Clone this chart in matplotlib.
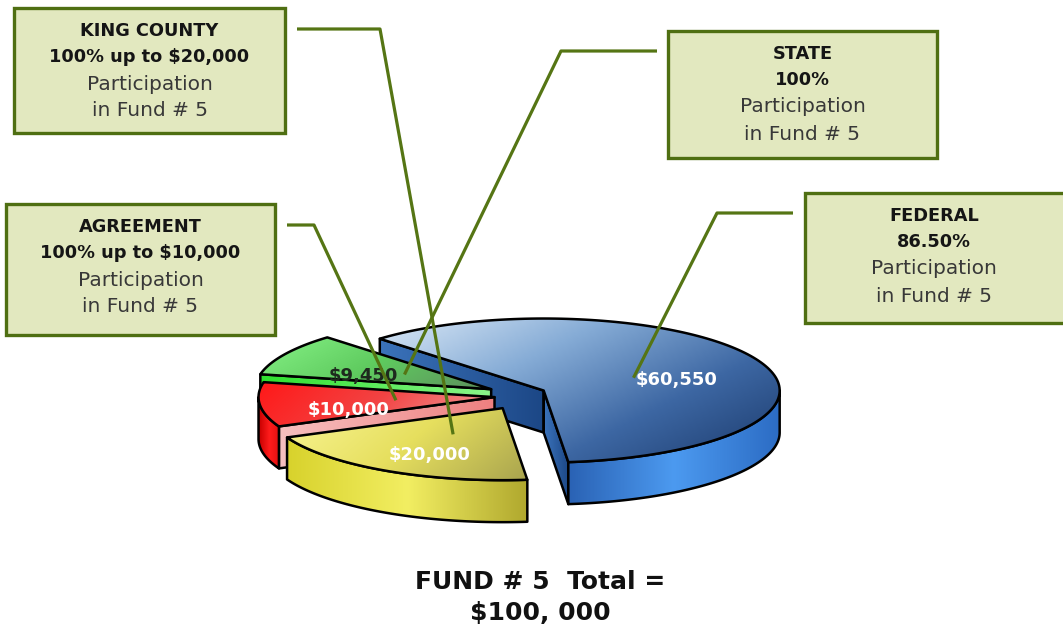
import numpy as np
import matplotlib.pyplot as plt
from matplotlib.patches import Polygon, Rectangle
from matplotlib.colors import LinearSegmentedColormap

# -----------------------
# Data
# -----------------------
sources = ["FEDERAL", "STATE", "AGREEMENT", "KING COUNTY"]
amounts = [60550, 9450, 10000, 20000]
amount_labels = ["$60,550", "$9,450", "$10,000", "$20,000"]
shares = ["86.50%", "100%", "100% up to $10,000", "100% up to $20,000"]
sub_lines = ["Participation", "in Fund # 5"]
title_lines = ["FUND # 5  Total =", "$100, 000"]

# -----------------------
# Styles / layout (pixel coords, y down)
# -----------------------
W, H = 1063, 635
cx, cy, rx, ry, depth = 518, 396, 236, 72, 42
start_angle = -84
explode = [0.12, 0.13, 0.10, 0.13]
lift = 1.5   # extra vertical spread of the exploded slices

top_cols = [["#dbe9f7", "#86acd6", "#3d67a3", "#1b3a6c"],
            ["#86f286", "#5fcb5f", "#5d8f5d"],
            ["#ff1818", "#f24444", "#f3a4a4"],
            ["#f9f594", "#e6df5e", "#a9a44e"]]
grad_dir = [(1.0, 0.7), (1.0, 0.4), (1.0, 0.2), (1.0, 0.35)]
wall_cols = [["#2a62b4", "#4c9af0", "#2c6cc4"],
             ["#3ed83e", "#5aee5a"],
             ["#c80000", "#ff1c1c", "#e01010"],
             ["#d8d22c", "#f2ee62", "#b0a82e"]]
face_cols = [["#3b73bb", "#1c4786"],
             ["#2ee02e", "#8af58a"],
             ["#f7c0c0", "#ee8080"],
             ["#c8c040", "#a09828"]]
label_cols = ["white", "#1e2a1e", "white", "white"]

boxes = [(805, 193, 1066, 323), (668, 31, 937, 158), (6, 204, 275, 335), (14, 8, 285, 133)]
line_offsets = [23, 49, 76, 103]
elbows = [((793, 213), (717, 213)), ((657, 51), (561, 51)),
          ((287, 225), (314, 225)), ((297, 29), (380, 29))]
box_fill, box_edge, leader_col = "#e2e8bf", "#4f6f12", "#557514"

fig = plt.figure(figsize=(W / 100, H / 100), dpi=100)
ax = fig.add_axes([0, 0, 1, 1])
ax.axis("off")


def pt(theta, r=1.0, ox=0.0, oy=0.0, dz=0.0):
    t = np.radians(theta)
    return np.column_stack([cx + ox + r * rx * np.cos(t), cy + oy - r * ry * np.sin(t) + dz])


def gradient_fill(xy, colors, direction, z):
    x0, x1 = xy[:, 0].min(), xy[:, 0].max()
    y0, y1 = xy[:, 1].min(), xy[:, 1].max()
    X, Y = np.meshgrid(np.linspace(0, 1, 200), np.linspace(0, 1, 100))
    Z = direction[0] * X + direction[1] * Y
    Z = (Z - Z.min()) / (Z.max() - Z.min() + 1e-9)
    cmap = LinearSegmentedColormap.from_list("g", colors)
    im = ax.imshow(Z, extent=(x0, x1, y1, y0), origin="upper", cmap=cmap,
                   aspect="auto", zorder=z, interpolation="bilinear")
    clip = Polygon(xy, closed=True, transform=ax.transData)
    im.set_clip_path(clip)
    ax.add_patch(Polygon(xy, closed=True, facecolor="none", edgecolor="black",
                         lw=1.8, joinstyle="round", zorder=z + 0.5))


# -----------------------
# Pie geometry
# -----------------------
fracs = np.array(amounts) / sum(amounts)
a_end = start_angle + np.cumsum(fracs) * 360
a_start = a_end - fracs * 360
mids = (a_start + a_end) / 2

# wedges are in ccw order blue, green, red, yellow -> that is also back-to-front
for i in range(len(amounts)):
    a0, a1, m = a_start[i], a_end[i], mids[i]
    ox = explode[i] * rx * np.cos(np.radians(m))
    oy = -explode[i] * ry * lift * np.sin(np.radians(m))
    z = 2 + i * 3
    c_top = pt(0, 0, ox, oy)[0]
    c_bot = pt(0, 0, ox, oy, depth)[0]

    # radial faces
    for ang, vis in ((a0, np.cos(np.radians(a0)) > 0), (a1, np.cos(np.radians(a1)) < 0)):
        if vis:
            e_top = pt(ang, 1, ox, oy)[0]
            e_bot = pt(ang, 1, ox, oy, depth)[0]
            gradient_fill(np.array([c_top, e_top, e_bot, c_bot]), face_cols[i], (1, 0), z)

    # outer wall (front half only)
    for lo, hi in ((-180, 0), (180, 360)):
        s, e = max(a0, lo), min(a1, hi)
        if e > s:
            th = np.linspace(s, e, 80)
            wall = np.vstack([pt(th, 1, ox, oy), pt(th[::-1], 1, ox, oy, depth)])
            gradient_fill(wall, wall_cols[i], (1, 0), z + 0.8)

    # top face
    th = np.linspace(a0, a1, 150)
    top = np.vstack([[c_top], pt(th, 1, ox, oy)])
    gradient_fill(top, top_cols[i], grad_dir[i], z + 1.6)

    # value label
    lx, ly = pt(m, 0.62, ox, oy)[0]
    ax.text(lx, ly + 8, amount_labels[i], ha="center", va="center", fontsize=13,
            fontweight="bold", color=label_cols[i], zorder=30)

    # callout box
    bx0, by0, bx1, by1 = boxes[i]
    ax.add_patch(Rectangle((bx0, by0), bx1 - bx0, by1 - by0, facecolor=box_fill,
                           edgecolor=box_edge, lw=2.4, zorder=40))
    bxc = (bx0 + min(bx1, W)) / 2
    lines = [sources[i], shares[i]] + sub_lines
    for k, txt in enumerate(lines):
        bold = k < 2
        ax.text(bxc, by0 + line_offsets[k], txt, ha="center", va="center",
                fontsize=12.8 if bold else 14.5, fontweight="bold" if bold else "normal",
                color="#151515" if bold else "#383838", zorder=41)

    # leader line
    end = pt(m, 0.42, ox, oy)[0]
    (sx, sy), (kx, ky) = elbows[i]
    ax.plot([sx, kx, end[0]], [sy, ky, end[1]], color=leader_col, lw=2.3,
            solid_capstyle="butt", zorder=35)

# -----------------------
# Title
# -----------------------
ax.text(540, 582, title_lines[0], ha="center", va="center", fontsize=18,
        fontweight="bold", color="#111111")
ax.text(540, 613, title_lines[1], ha="center", va="center", fontsize=18,
        fontweight="bold", color="#111111")

ax.set_xlim(0, W)
ax.set_ylim(H, 0)
fig.savefig("out.png", dpi=100)
